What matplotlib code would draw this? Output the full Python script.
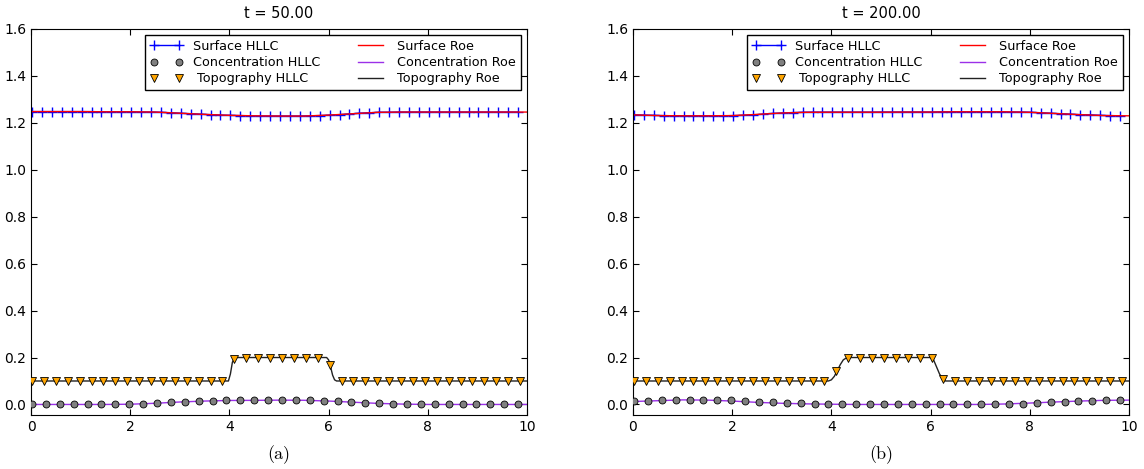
import numpy as np
import matplotlib.pyplot as plt

# cell centres on which the HLLC markers are shown (dx = 0.04, every 5th/7th/6th cell)
x_surf = np.arange(0.02, 10.0, 0.20)
x_conc = np.arange(0.02, 10.0, 0.28)
x_topo = np.arange(0.02, 10.0, 0.24)
# coarse sampling of the Roe solution
x_roe = np.arange(0.0, 10.01, 0.5)

titles = ["t = 50.00", "t = 200.00"]
captions = ["(a)", "(b)"]

# ---- t = 50 ----
surf_hllc_50 = [1.248, 1.248, 1.248, 1.248, 1.248, 1.248, 1.248, 1.247, 1.247, 1.247,
                1.247, 1.246, 1.246, 1.245, 1.243, 1.241, 1.239, 1.237, 1.235, 1.233,
                1.232, 1.231, 1.230, 1.229, 1.229, 1.229, 1.229, 1.229, 1.230, 1.231,
                1.233, 1.235, 1.238, 1.241, 1.243, 1.245, 1.245, 1.246, 1.246, 1.246,
                1.246, 1.246, 1.246, 1.246, 1.246, 1.246, 1.246, 1.246, 1.246, 1.246]
conc_hllc_50 = [0.0, 0.0, 0.0, 0.0, 0.0, 0.0, 0.0, 0.0, 0.002, 0.0043,
                0.0085, 0.0113, 0.0128, 0.0156, 0.017, 0.017, 0.017, 0.0184, 0.0184, 0.0184,
                0.017, 0.0156, 0.0128, 0.0099, 0.0071, 0.0043, 0.0028, 0.0014, 0.0, 0.0,
                0.0, 0.0, 0.0, 0.0, 0.0, 0.0]
topo_hllc_50 = [0.1] * 17 + [0.195] + [0.2] * 7 + [0.167] + [0.1] * 16

surf_roe_50 = [1.248, 1.248, 1.248, 1.247, 1.247, 1.246, 1.241, 1.236, 1.232, 1.230,
               1.229, 1.229, 1.233, 1.239, 1.245, 1.246, 1.246, 1.246, 1.246, 1.246, 1.246]
conc_roe_50 = [0.0, 0.0, 0.0, 0.0, 0.001, 0.005, 0.0105, 0.0145, 0.017, 0.0175,
               0.0184, 0.0178, 0.0145, 0.0095, 0.0045, 0.0015, 0.0, 0.0, 0.0, 0.0, 0.0]
topo_roe_x_50 = [0.0, 3.98, 4.02, 4.06, 4.10, 4.14, 5.96, 6.00, 6.04, 6.08, 6.12, 6.16, 10.0]
topo_roe_50 = [0.1, 0.1, 0.13, 0.18, 0.197, 0.2, 0.2, 0.19, 0.16, 0.125, 0.105, 0.1, 0.1]

# ---- t = 200 ----
surf_hllc_200 = [1.234, 1.233, 1.232, 1.231, 1.230, 1.230, 1.230, 1.230, 1.230, 1.230,
                 1.231, 1.232, 1.234, 1.237, 1.240, 1.242, 1.244, 1.245, 1.2455, 1.2455,
                 1.2455, 1.2455, 1.2455, 1.2455, 1.2455, 1.246, 1.246, 1.246, 1.246, 1.246,
                 1.246, 1.247, 1.247, 1.247, 1.247, 1.247, 1.247, 1.247, 1.246, 1.246,
                 1.245, 1.243, 1.241, 1.239, 1.237, 1.235, 1.234, 1.232, 1.231, 1.230]
conc_hllc_200 = [0.0128, 0.0142, 0.017, 0.0184, 0.0199, 0.0199, 0.0184, 0.017, 0.0142, 0.0113,
                 0.0085, 0.0057, 0.0043, 0.0028, 0.0014, 0.0, 0.0, 0.0, 0.0, 0.0,
                 0.0, 0.0, 0.0, 0.0, 0.0, 0.0, 0.0, 0.0014, 0.0028, 0.0057,
                 0.0085, 0.0113, 0.0142, 0.0156, 0.017, 0.0184]
topo_hllc_200 = [0.1] * 17 + [0.142] + [0.2] * 8 + [0.107] + [0.1] * 15

surf_roe_200 = [1.234, 1.231, 1.230, 1.230, 1.231, 1.236, 1.242, 1.245, 1.2455, 1.2455,
                1.2455, 1.246, 1.246, 1.247, 1.247, 1.247, 1.245, 1.240, 1.235, 1.231, 1.230]
conc_roe_200 = [0.0125, 0.016, 0.0195, 0.0185, 0.0145, 0.009, 0.005, 0.0025, 0.001, 0.0,
                0.0, 0.0, 0.0, 0.0, 0.0, 0.002, 0.006, 0.0105, 0.0145, 0.0175, 0.0185]
topo_roe_x_200 = [0.0, 3.94, 4.00, 4.06, 4.12, 4.18, 4.24, 4.30, 4.36,
                  6.02, 6.06, 6.12, 6.18, 6.24, 6.30, 10.0]
topo_roe_200 = [0.1, 0.1, 0.105, 0.12, 0.145, 0.17, 0.19, 0.198, 0.2,
                0.2, 0.19, 0.16, 0.13, 0.11, 0.1, 0.1]

panels = [
    (surf_hllc_50, conc_hllc_50, topo_hllc_50, surf_roe_50, conc_roe_50, topo_roe_x_50, topo_roe_50),
    (surf_hllc_200, conc_hllc_200, topo_hllc_200, surf_roe_200, conc_roe_200, topo_roe_x_200, topo_roe_200),
]

plt.rcParams['xtick.direction'] = 'in'
plt.rcParams['ytick.direction'] = 'in'
plt.rcParams['xtick.top'] = True
plt.rcParams['ytick.right'] = True
plt.rcParams['font.size'] = 10

fig = plt.figure(figsize=(11.44, 4.69), dpi=100)
lefts = [0.0271, 0.5533]

for i, (sh, ch, th, sr, cr, trx, tr) in enumerate(panels):
    ax = fig.add_axes([lefts[i], 0.1151, 0.4336, 0.8231])
    ax.plot(x_surf, sh, '-', color='blue', marker='+', ms=6.5, mew=1.0, lw=1.0,
            label='Surface HLLC', zorder=1.5)
    ax.plot(x_conc, ch, 'o', color='gray', mec='black', mew=0.6, ms=5,
            label='Concentration HLLC', zorder=3)
    ax.plot(x_topo, th, 'v', color='orange', mec='black', mew=0.6, ms=5.5,
            label=' Topography HLLC', zorder=3)
    ax.plot(x_roe, sr, '-', color='red', lw=1.0, label='Surface Roe', zorder=2)
    ax.plot(x_roe, cr, '-', color='#9b30e8', lw=1.0, label='Concentration Roe', zorder=2)
    ax.plot(trx, tr, '-', color='#222222', lw=1.0, label='Topography Roe', zorder=2)

    ax.set_xlim(0, 10)
    ax.set_ylim(-0.045, 1.6)
    ax.set_xticks([0, 2, 4, 6, 8, 10])
    ax.set_yticks(np.arange(0, 1.61, 0.2))
    ax.set_yticklabels(['%.1f' % v for v in np.arange(0, 1.61, 0.2)])
    ax.tick_params(length=4, width=0.8, labelsize=10)
    ax.set_title(titles[i], fontsize=10.5, pad=8)

    leg = ax.legend(loc='upper right', ncol=2, numpoints=2, fontsize=9.2,
                    fancybox=False, framealpha=1, edgecolor='black',
                    handlelength=2.6, borderpad=0.35, labelspacing=0.25,
                    columnspacing=2.6, handletextpad=0.8, borderaxespad=0.5)
    leg.get_frame().set_linewidth(1.0)

    fig.text(lefts[i] + 0.4336 / 2, 0.03, captions[i], ha='center', va='center',
             fontfamily='cmr10', fontsize=13)

fig.savefig('out.png', dpi=100, facecolor='white')
